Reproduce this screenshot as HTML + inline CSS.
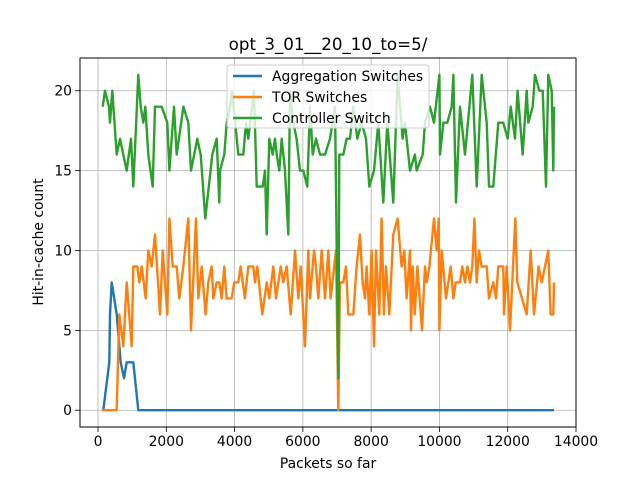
<!DOCTYPE html>
<html><head><meta charset="utf-8"><style>
body{margin:0;background:#fff;}
svg text{font-family:"DejaVu Sans","Liberation Sans",sans-serif;fill:#000;}
</style></head><body>
<svg id="chart" width="640" height="480" xmlns="http://www.w3.org/2000/svg">
<rect width="640" height="480" fill="#fff"/>
<g id="grid"></g>
<g id="series"></g>
<rect x="80" y="58" width="496" height="369" fill="none" stroke="#000" stroke-width="1"/>
<g id="ticks"></g>
<text x="328" y="50" font-size="16.7" text-anchor="middle">opt_3_01__20_10_to=5/</text>
<text x="328" y="468" font-size="13.9" text-anchor="middle">Packets so far</text>
<text x="43" y="242" font-size="13.9" text-anchor="middle" transform="rotate(-90 43 242)">Hit-in-cache count</text>
<g>
<rect x="227" y="65" width="202" height="63" rx="3" fill="#fff" fill-opacity="0.8" stroke="#ccc"/>
<line x1="233" y1="76" x2="262" y2="76" stroke="#1f77b4" stroke-width="2.4"/>
<text x="272" y="81" font-size="13.9">Aggregation Switches</text>
<line x1="233" y1="97" x2="262" y2="97" stroke="#ff7f0e" stroke-width="2.4"/>
<text x="272" y="102" font-size="13.9">TOR Switches</text>
<line x1="233" y1="118" x2="262" y2="118" stroke="#2ca02c" stroke-width="2.4"/>
<text x="272" y="123" font-size="13.9">Controller Switch</text>
</g>
</svg>
<script>
const xTicks=[0,2000,4000,6000,8000,10000,12000,14000];
const yTicks=[0,5,10,15,20];
const aggX=[156,332,352,400,547,664,762,840,1035,1181,13356];
const aggY=[0,3,6,8,6,3,2,3,3,0,0];
const torX=[108,547,625,742,840,986,1035,1152,1211,1279,1396,1474,1572,1670,1816,1894,2031,2090,2187,2304,2382,2499,2646,2724,2870,2938,3036,3153,3231,3329,3378,3476,3554,3622,3700,3768,3914,3992,4109,4178,4304,4402,4550,4598,4667,4813,4940,5018,5135,5213,5350,5428,5526,5643,5770,5867,5936,6062,6160,6209,6326,6385,6453,6551,6648,6746,6814,6970,7038,7087,7185,7263,7331,7478,7575,7673,7751,7819,7868,7946,8014,8083,8141,8239,8307,8375,8434,8532,8649,8776,8893,8971,9039,9139,9168,9217,9276,9354,9490,9578,9627,9705,9842,9920,9978,9998,10066,10193,10330,10408,10476,10603,10671,10749,10818,10896,10964,11023,11091,11159,11237,11384,11452,11579,11657,11725,11872,11891,11969,12067,12223,12281,12555,12672,12770,12906,12994,13189,13257,13336,13356];
const torY=[0,0,6,4,8,4,9,9,8,9,7,10,9,11,6,10,6,12,9,9,7,9,12,5,12,7,9,6,8,9,7,8,8,7,9,7,7,8,8,9,7,9,9,8,9,6,8,7,9,7,9,8,9,6,10,7,9,4,10,7,10,9,7,10,7,10,7,10,0,8,8,9,6,6,9,11,8,7,9,6,10,4,10,6,12,6,9,6,11,12,9,10,7,10,5,9,6,9,5,9,8,9,12,10,12,5,10,7,9,7,8,8,9,8,9,8,9,12,8,10,9,9,7,8,7,9,9,6,9,5,12,8,6,10,6,9,8,10,6,6,8];
const ctlX=[137,205,322,351,420,547,644,742,840,967,1035,1181,1250,1328,1386,1474,1601,1670,1865,2031,2090,2226,2304,2500,2646,2724,2909,3007,3144,3349,3476,3554,3573,3700,3769,3866,3925,4109,4256,4334,4402,4570,4647,4823,4891,4940,5018,5116,5184,5233,5311,5379,5477,5574,5623,5721,5818,5916,6014,6131,6209,6287,6385,6502,6648,6794,6941,7038,7068,7185,7282,7380,7478,7595,7722,7848,7946,8083,8210,8356,8473,8649,8776,8922,8990,9137,9283,9334,9510,9578,9725,9842,9998,10017,10115,10232,10359,10408,10486,10603,10749,10964,11091,11237,11384,11452,11579,11725,11872,11999,12087,12213,12291,12438,12555,12604,12731,12799,12926,13024,13121,13189,13287,13336,13356];
const ctlY=[19,20,19,18,20,16,17,16,15,17,14,21,19,18,19,16,14,19,19,18,15,19,16,19,18,15,17,16,12,16,17,13,15,16,18,19,20,16,16,18,17,20,14,14,15,11,17,16,17,16,15,17,15,11,20,18,17,15,15,14,19,16,17,16,16,17,19,2,16,16,17,17,19,17,18,17,14,15,18,13,18,13,21,17,18,15,16,15,16,18,19,18,21,16,18,18,19,21,13,19,16,21,14,21,18,14,14,18,18,17,19,17,20,16,20,18,19,21,20,20,14,21,20,15,19];
const X0=80,X1=576,Y0=58,Y1=427,xmin=-527,xmax=14000,ymin=-1.05,ymax=22.05;
function sx(v){return X0+(v-xmin)/(xmax-xmin)*(X1-X0);}
function sy(v){return Y1-(v-ymin)/(ymax-ymin)*(Y1-Y0);}
const NS='http://www.w3.org/2000/svg';
const grid=document.getElementById('grid'),ticks=document.getElementById('ticks'),series=document.getElementById('series');
function mk(tag,attrs,parent){const e=document.createElementNS(NS,tag);for(const k in attrs)e.setAttribute(k,attrs[k]);parent.appendChild(e);return e;}
xTicks.forEach(t=>{const x=sx(t);
 const g=mk('line',{x1:x,x2:x,y1:Y0,y2:Y1,stroke:'#b0b0b0','stroke-width':0.8},grid);
 
 
 mk('line',{x1:x,x2:x,y1:Y1,y2:Y1+5,stroke:'#000','stroke-width':0.8},ticks);
 const tx=mk('text',{x:x,y:Y1+19,'font-size':13.9,'text-anchor':'middle'},ticks);tx.textContent=t;
 
 
});
yTicks.forEach(t=>{const y=sy(t);
 const g=mk('line',{x1:X0,x2:X1,y1:y,y2:y,stroke:'#b0b0b0','stroke-width':0.8},grid);
 
 
 mk('line',{x1:X0-5,x2:X0,y1:y,y2:y,stroke:'#000','stroke-width':0.8},ticks);
 const tx=mk('text',{x:X0-8,y:y+5,'font-size':13.9,'text-anchor':'end'},ticks);tx.textContent=t;
 
 
});
function line(xs,ys,color,name){
 const d=xs.map((v,i)=>(i?'L':'M')+sx(v).toFixed(1)+' '+sy(ys[i]).toFixed(1)).join(' ');
 const p=mk('path',{d:d,fill:'none',stroke:color,'stroke-width':2.4,'stroke-linejoin':'round'},series);
 
 
}
line(aggX,aggY,'#1f77b4','aggregation-switches-line');
line(torX,torY,'#ff7f0e','tor-switches-line');
line(ctlX,ctlY,'#2ca02c','controller-switch-line');
</script>
</body></html>
